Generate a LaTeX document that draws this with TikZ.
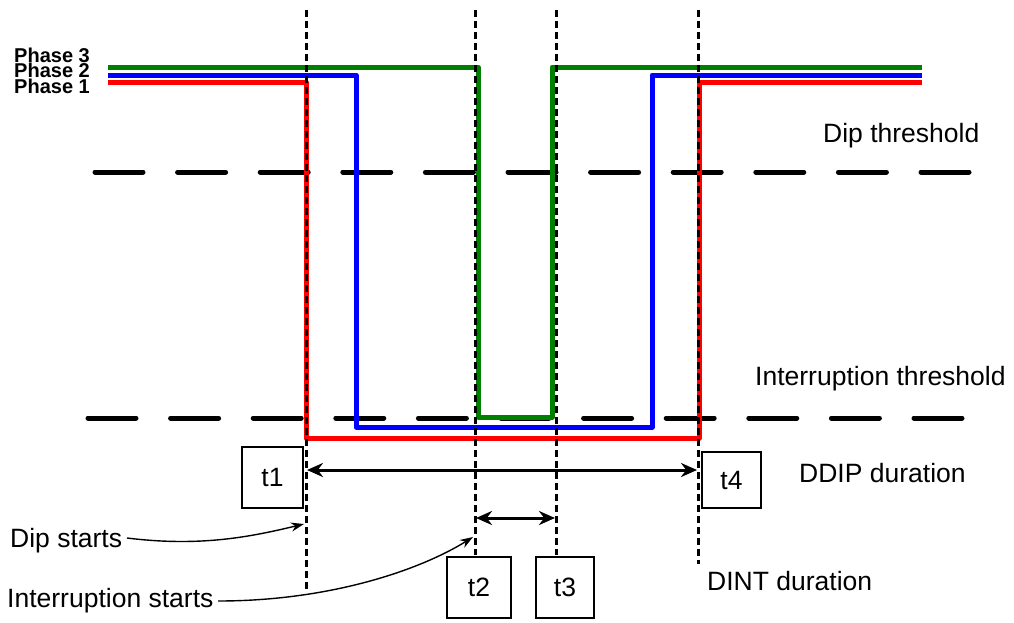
\documentclass[tikz,border=0pt]{standalone}
\usepackage{fontspec}
\setmainfont{Liberation Sans}
\usetikzlibrary{arrows.meta}
\begin{document}
\begin{tikzpicture}[x=1pt,y=-1pt,
  lbl/.style={font=\fontsize{26.5}{30}\selectfont, inner sep=0pt, anchor=base west},
  phaselbl/.style={font=\fontsize{20}{21}\selectfont\bfseries, inner sep=0pt, anchor=base west},
  tbox/.style={draw, line width=1.8pt, font=\fontsize{26.5}{30}\selectfont, inner sep=0pt},
  marker/.style={line width=3pt, dash pattern=on 7pt off 4pt},
  thresh/.style={line width=5pt, line cap=round, dash pattern=on 48pt off 34.6pt},
  phase/.style={line width=5pt, line join=round},
  dur/.style={line width=3pt, {Stealth[length=16pt,width=14pt]}-{Stealth[length=16pt,width=14pt]}},
  callout/.style={line width=1.4pt, -{Stealth[length=13pt,width=9pt]}}
]
\useasboundingbox (0,0) rectangle (1014,622);

% phase labels
\node[phaselbl] (p3) at (14,62) {Phase 3};
\node[phaselbl] (p2) at (14,77.5) {Phase 2};
\node[phaselbl] (p1) at (14,93) {Phase 1};

% threshold lines
\coordinate (dipL) at (95,172);
\coordinate (dipR) at (975,172);
\coordinate (intL) at (88,418);
\coordinate (intR) at (970,418);
\draw[thresh] (dipL) -- (dipR);
\draw[thresh] (intL) -- (intR);

% phases
\draw[phase, green!50!black] (108,67) -- (478,67) -- (478,417) -- (552,417) -- (552,67) -- (922,67);
\draw[phase, blue] (108,75) -- (356,75) -- (356,427) -- (652,427) -- (652,75) -- (922,75);
\draw[phase, red] (108,82) -- (306,82) -- (306,438) -- (699,438) -- (699,82) -- (922,82);

% time markers
\coordinate (m1t) at (306,10); \coordinate (m1b) at (306,592);
\coordinate (m2t) at (475,10); \coordinate (m2b) at (475,555);
\coordinate (m3t) at (556,10); \coordinate (m3b) at (556,555);
\coordinate (m4t) at (698,10); \coordinate (m4b) at (698,564);
\draw[marker] (m1t) -- (m1b);
\draw[marker] (m2t) -- (m2b);
\draw[marker] (m3t) -- (m3b);
\draw[marker] (m4t) -- (m4b);

% boxes
\node[tbox, minimum width=61pt, minimum height=61pt] (t1) at (272.5,477.5) {t1};
\node[tbox, minimum width=59pt, minimum height=56pt] (t4) at (731.5,480) {t4};
\node[tbox, minimum width=64pt, minimum height=61pt] (t2) at (479,587.5) {t2};
\node[tbox, minimum width=58pt, minimum height=61pt] (t3) at (565,587.5) {t3};

% durations
\coordinate (dd1) at (307,470); \coordinate (dd2) at (697,470);
\coordinate (di1) at (476,518); \coordinate (di2) at (555,518);
\draw[dur] (dd1) -- (dd2);
\draw[dur] (di1) -- (di2);

% labels
\node[lbl] (dipth) at (823,142) {Dip threshold};
\node[lbl] (intth) at (755,385) {Interruption threshold};
\node[lbl] (ddip) at (799,482) {DDIP duration};
\node[lbl] (dint) at (707,590) {DINT duration};
\node[lbl] (dips) at (10,547) {Dip starts};
\node[lbl] (ints) at (7,607) {Interruption starts};

% callouts
\coordinate (dipsTip) at (304,524);
\coordinate (intsTip) at (473,537);
\draw[callout] (127,538) .. controls (200,547) and (250,537) .. (dipsTip);
\draw[callout] (218,601) .. controls (330,601) and (420,570) .. (intsTip);
\end{tikzpicture}
\end{document}
